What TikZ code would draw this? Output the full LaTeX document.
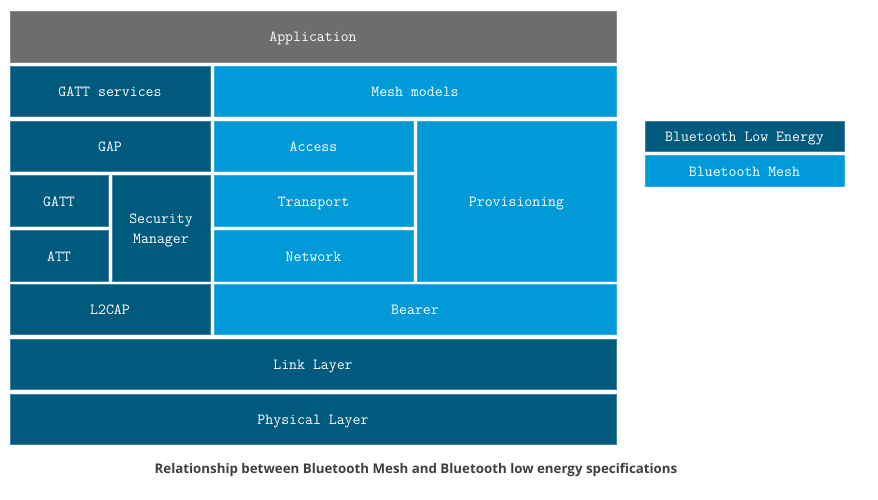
\documentclass[tikz,border=0pt]{standalone}
\usepackage{fontspec}
\usepackage{tikz}
\newfontfamily\capfont{Open Sans}
\definecolor{bledark}{HTML}{005A7E}
\definecolor{meshblue}{HTML}{009AD8}
\definecolor{appgray}{HTML}{6D6D6D}
\definecolor{capgray}{HTML}{3F3F3F}

\begin{document}
\begin{tikzpicture}[x=1pt, y=-1pt,
    layer/.style={rectangle, inner sep=0pt, text=white, text height=11pt, text depth=0pt, font=\ttfamily\fontsize{15.4}{20}\selectfont, align=center},
    ble/.style={layer, fill=bledark, draw=bledark!75!white, line width=0.8pt},
    mesh/.style={layer, fill=meshblue, draw=meshblue!80!white, line width=0.8pt},
    app/.style={layer, fill=appgray, draw=appgray!80!white, line width=0.8pt}]
    \useasboundingbox (0,0) rectangle (878,500);
    \node [app, minimum width=606pt, minimum height=51pt] (application) at (313, 36.5) {Application};
    \node [ble, minimum width=200pt, minimum height=50pt] (gattsrv) at (110, 91) {GATT services};
    \node [mesh, minimum width=402pt, minimum height=50pt] (models) at (415, 91) {Mesh models};
    \node [ble, minimum width=200pt, minimum height=50pt] (gap) at (110, 146) {GAP};
    \node [mesh, minimum width=199pt, minimum height=50pt] (access) at (313.5, 146) {Access};
    \node [mesh, minimum width=199pt, minimum height=160pt] (prov) at (516.5, 201) {Provisioning};
    \node [ble, minimum width=98pt, minimum height=51pt] (gatt) at (59, 200.5) {GATT};
    \node [ble, minimum width=98pt, minimum height=106pt, text height=30pt] (secmgr) at (161, 228) {Security\\Manager};
    \node [ble, minimum width=98pt, minimum height=51pt] (att) at (59, 255.5) {ATT};
    \node [mesh, minimum width=199pt, minimum height=51pt] (transport) at (313.5, 200.5) {Transport};
    \node [mesh, minimum width=199pt, minimum height=51pt] (network) at (313.5, 255.5) {Network};
    \node [ble, minimum width=200pt, minimum height=50pt] (l2cap) at (110, 309) {L2CAP};
    \node [mesh, minimum width=402pt, minimum height=50pt] (bearer) at (415, 309) {Bearer};
    \node [ble, minimum width=606pt, minimum height=50pt] (link) at (313, 364) {Link Layer};
    \node [ble, minimum width=606pt, minimum height=50pt] (phys) at (313, 419) {Physical Layer};
    % legend
    \node [ble, minimum width=199pt, minimum height=30pt] (keyble) at (744.5, 136) {Bluetooth Low Energy};
    \node [mesh, minimum width=199pt, minimum height=31pt] (keymesh) at (744.5, 170.5) {Bluetooth Mesh};
    \node [text=capgray, font=\capfont\bfseries\fontsize{13.3}{16}\selectfont] (caption) at (416, 470) {Relationship between Bluetooth Mesh and Bluetooth low energy specifications};
\end{tikzpicture}
\end{document}
